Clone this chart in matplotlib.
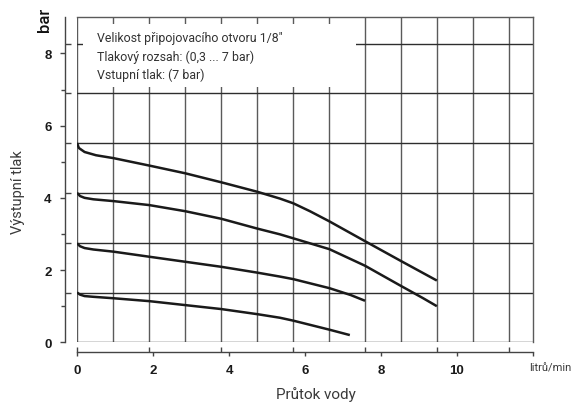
import matplotlib
matplotlib.use("Agg")
import matplotlib.pyplot as plt
from matplotlib.patches import Rectangle

# ---- data (flow in l/min, pressure in bar) ----
c1_x = [0.0, 0.05, 0.2, 0.5, 0.96, 1.92, 2.85, 3.80, 4.74, 5.34, 5.69, 6.13, 6.64, 7.58, 8.51, 9.47]
c1_y = [5.52, 5.38, 5.27, 5.18, 5.10, 4.89, 4.68, 4.43, 4.17, 3.98, 3.85, 3.63, 3.35, 2.80, 2.26, 1.71]
c2_x = [0.0, 0.08, 0.2, 0.43, 0.96, 1.90, 2.85, 3.80, 4.74, 5.34, 5.69, 6.64, 7.58, 8.51, 9.11, 9.47]
c2_y = [4.14, 4.05, 4.00, 3.96, 3.91, 3.80, 3.63, 3.42, 3.15, 2.99, 2.88, 2.58, 2.12, 1.57, 1.22, 1.00]
c3_x = [0.0, 0.08, 0.2, 0.43, 0.96, 1.90, 2.85, 3.80, 4.74, 5.34, 5.69, 6.64, 7.2, 7.58]
c3_y = [2.74, 2.66, 2.61, 2.57, 2.51, 2.37, 2.23, 2.09, 1.93, 1.82, 1.75, 1.50, 1.31, 1.15]
c4_x = [0.0, 0.08, 0.2, 0.43, 0.96, 1.90, 2.85, 3.80, 4.74, 5.34, 5.69, 6.64, 7.18]
c4_y = [1.38, 1.32, 1.28, 1.26, 1.22, 1.14, 1.03, 0.92, 0.78, 0.68, 0.60, 0.35, 0.20]
curves = [(c1_x, c1_y), (c2_x, c2_y), (c3_x, c3_y), (c4_x, c4_y)]

y_major = [0, 2, 4, 6, 8]
y_minor = [1, 3, 5, 7]
x_major = [0, 2, 4, 6, 8, 10, 12]
x_labels = ["0", "2", "4", "6", "8", "10", ""]

# background grid is in US units: 0.25 GPM columns, 20 psi rows
GPM = 3.78541
PSI = 0.0689476
grid_x = [k * 0.25 * GPM for k in range(13)]
grid_y = [k * 20 * PSI for k in range(7)]
tick_gx = [k * 0.5 * GPM for k in range(7)]

info = ['Velikost připojovacího otvoru 1/8"',
        'Tlakový rozsah: (0,3 ... 7 bar)',
        'Vstupní tlak: (7 bar)']

W, H = 574, 406
fig = plt.figure(figsize=(W / 100, H / 100), dpi=100)
L, R, T, B = 77, 533, 18.3, 343.3
ax = fig.add_axes([L / W, (H - B) / H, (R - L) / W, (B - T) / H])
ax.set_xlim(0, 12)
ax.set_ylim(0, 9)
ppu = (B - T) / 9.0

gcol = "#5a5a5a"
for gx in grid_x:
    ax.axvline(gx, color=gcol, lw=1.0, zorder=1)
for gy in grid_y:
    ax.axhline(gy, color="#2e2e2e", lw=1.0, zorder=1)

for s in ["top", "right"]:
    ax.spines[s].set_color(gcol)
    ax.spines[s].set_linewidth(1.0)
ax.spines["left"].set_position(("outward", 12 * 0.72))
ax.spines["bottom"].set_position(("outward", 9.7 * 0.72))
for s in ["left", "bottom"]:
    ax.spines[s].set_color("#444444")
    ax.spines[s].set_linewidth(1.0)

# white info box over the grid
ax.add_patch(Rectangle((0.16, 7.07), 7.18, 1.75, facecolor="white",
                       edgecolor="none", zorder=2))
tfont = dict(family=["Roboto", "DejaVu Sans"], fontsize=8.9, color="#333333",
             fontweight="normal")
for i, line in enumerate(info):
    ax.text(0.53, (B - (38.5 + i * 18.5)) / ppu, line,
            va="center", ha="left", zorder=3, **tfont)

for cx, cy in curves:
    ax.plot(cx, cy, color="#1a1a1a", lw=1.8, zorder=4, solid_capstyle="butt",
            solid_joinstyle="round")

ax.set_yticks(y_major)
ax.set_yticks(y_minor, minor=True)
ax.set_xticks(x_major)
ax.set_xticklabels(x_labels)
ax.tick_params(axis="y", which="major", direction="out", length=3.6, width=1,
               color="#444444", pad=6)
ax.tick_params(axis="y", which="minor", direction="out", length=3.2, width=1,
               color="#444444")
ax.tick_params(axis="x", which="major", direction="out", length=3.0, width=1,
               color="#444444", pad=6)
for lab in ax.get_xticklabels() + ax.get_yticklabels():
    lab.set_fontfamily(["Liberation Sans", "DejaVu Sans"])
    lab.set_fontweight("bold")
    lab.set_fontsize(9.5)
    lab.set_color("#1a1a1a")

# grid-aligned ticks on the outer axes
secy = ax.secondary_yaxis(-12 / (R - L))
secy.set_yticks(grid_y[1:])
secy.tick_params(direction="in", length=4.3, width=1, color="#444444",
                 labelleft=False)
secy.spines["left"].set_visible(False)
secx = ax.secondary_xaxis(-9.7 / (B - T))
secx.set_xticks(tick_gx)
secx.tick_params(direction="in", length=3.6, width=1, color="#444444",
                 labelbottom=False)
secx.spines["bottom"].set_visible(False)

# labels
lfont = ["Roboto", "DejaVu Sans"]
fig.text(45 / W, 1 - 20 / H, "bar", rotation=90, ha="center", va="center",
         fontsize=12, family=lfont, fontweight="medium", color="#111111")
fig.text(18 / W, 1 - 192 / H, "Výstupní tlak", rotation=90, ha="center",
         va="center", fontsize=10.5, family=lfont, fontweight="normal",
         color="#3a3a3a")
fig.text(316 / W, 1 - 395 / H, "Průtok vody", ha="center", va="center",
         fontsize=11, family=lfont, fontweight="normal", color="#3a3a3a")
fig.text(571 / W, 1 - 369 / H, "litrů/min", ha="right", va="center",
         fontsize=8.0, family=lfont, fontweight="normal", color="#3a3a3a")

fig.savefig("out.png", dpi=100)
